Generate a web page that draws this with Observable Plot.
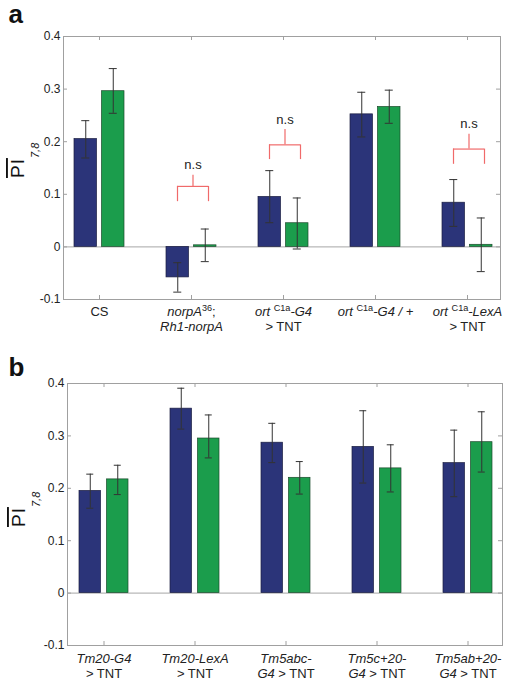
<!DOCTYPE html>
<html><head><meta charset="utf-8">
<script src="https://cdn.jsdelivr.net/npm/d3@7"></script>
<script src="https://cdn.jsdelivr.net/npm/@observablehq/plot@0.6"></script>
<style>
body{margin:0;background:#fff;}
#fig{width:511px;}
#fig svg{display:block;}
</style></head><body><div id="fig"></div>
<script>
// ---------- data ----------
// labels use a tiny markup: _italic_  ^superscript^  \n new line
const groupsA = ["CS", "_norpA_^36^;\n_Rh1-norpA_", "_ort_ ^C1a^_-G4_\n> TNT", "_ort_ ^C1a^_-G4 / +_", "_ort_ ^C1a^_-LexA_\n> TNT"];
const blueA    = [0.205, -0.058, 0.095, 0.252, 0.084];
const blueLoA  = [0.169, -0.086, 0.046, 0.209, 0.039];
const blueHiA  = [0.240, -0.030, 0.145, 0.294, 0.128];
const greenA   = [0.296, 0.003, 0.045, 0.266, 0.004];
const greenLoA = [0.254, -0.028, -0.004, 0.235, -0.047];
const greenHiA = [0.339, 0.034, 0.093, 0.298, 0.055];
// "n.s" brackets (group index, bar level, leg bottom, stem top)
const nsGroupsA = [1, 2, 4];
const nsBarA  = [0.115, 0.194, 0.186];
const nsLegA  = [0.086, 0.166, 0.157];
const nsStemA = [0.136, 0.223, 0.214];

const groupsB = ["_Tm20-G4_\n> TNT", "_Tm20-LexA_\n> TNT", "_Tm5abc-_\n_G4_ > TNT", "_Tm5c+20-_\n_G4_ > TNT", "_Tm5ab+20-_\n_G4_ > TNT"];
const blueB    = [0.195, 0.352, 0.287, 0.279, 0.248];
const blueLoB  = [0.162, 0.313, 0.249, 0.210, 0.184];
const blueHiB  = [0.227, 0.391, 0.324, 0.348, 0.311];
const greenB   = [0.217, 0.295, 0.220, 0.238, 0.288];
const greenLoB = [0.188, 0.258, 0.189, 0.193, 0.231];
const greenHiB = [0.244, 0.340, 0.251, 0.283, 0.346];

const yTicks = [-0.1, 0, 0.1, 0.2, 0.3, 0.4];
const BLUE = "#2b3479", GREEN = "#1b9d4c", RED = "#f06a6a";
const FONT = "'Liberation Sans', Arial, Helvetica, sans-serif";

function stripMarkup(s) { return s.replace(/[_^]/g, ""); }

function richLabel(textEl, label) {
  const t = d3.select(textEl);
  t.attr("y", null);
  t.selectAll("*").remove();
  t.text(null);
  label.split("\n").forEach((line, k) => {
    const lt = t.append("tspan").attr("x", 0).attr("y", (0.71 + k * 1.15) + "em");
    let shift = 0;
    for (const m of line.matchAll(/_([^_]*)_|\^([^^]*)\^|([^_^]+)/g)) {
      let s;
      if (m[2] != null) {
        s = lt.append("tspan").attr("font-size", "70%").attr("dy", "-0.55em").text(m[2]);
        shift = 0.385;
        continue;
      }
      s = lt.append("tspan").text(m[1] != null ? m[1] : m[3]);
      if (m[1] != null) s.attr("font-style", "italic");
      if (shift) { s.attr("dy", shift + "em"); shift = 0; }
    }
  });
}

function panel(cfg) {
  const {groups, blue, blueLo, blueHi, green, greenLo, greenHi, ns, letter,
         height, mt, mb, ml, mr, xRange, tickPad, labelPos, letterPos} = cfg;
  const rows = groups.map((g, i) => ({g, b: blue[i], bl: blueLo[i], bh: blueHi[i],
                                      gr: green[i], gl: greenLo[i], gh: greenHi[i]}));
  const nsRows = ns ? ns.groups.map((gi, j) => ({g: groups[gi], bar: ns.bar[j], leg: ns.leg[j], stem: ns.stem[j]})) : [];
  const ph = height - mt - mb, pw = 511 - ml - mr;
  const marks = [
    Plot.ruleY([0], {stroke: "#a6a6a6", strokeWidth: 1}),
    Plot.barY(rows, {x: "g", y: "b", fill: BLUE, stroke: "#1a1d40", strokeWidth: 0.7, insetLeft: 0, insetRight: 27.5}),
    Plot.barY(rows, {x: "g", y: "gr", fill: GREEN, stroke: "#1c4a2c", strokeWidth: 0.7, insetLeft: 27.5, insetRight: 0}),
    Plot.ruleX(rows, {x: "g", y1: "bl", y2: "bh", dx: -13.75, stroke: "#333", strokeWidth: 1}),
    Plot.ruleX(rows, {x: "g", y1: "gl", y2: "gh", dx: 13.75, stroke: "#333", strokeWidth: 1}),
    Plot.tickY(rows, {x: "g", y: "bl", insetLeft: 7.25, insetRight: 34.75, stroke: "#333"}),
    Plot.tickY(rows, {x: "g", y: "bh", insetLeft: 7.25, insetRight: 34.75, stroke: "#333"}),
    Plot.tickY(rows, {x: "g", y: "gl", insetLeft: 34.75, insetRight: 7.25, stroke: "#333"}),
    Plot.tickY(rows, {x: "g", y: "gh", insetLeft: 34.75, insetRight: 7.25, stroke: "#333"}),
    // n.s brackets
    Plot.tickY(nsRows, {x: "g", y: "bar", insetLeft: 11, insetRight: 8, stroke: RED, strokeWidth: 1.2}),
    Plot.ruleX(nsRows, {x: "g", y1: "bar", y2: "leg", dx: -14, stroke: RED, strokeWidth: 1.2}),
    Plot.ruleX(nsRows, {x: "g", y1: "bar", y2: "leg", dx: 17, stroke: RED, strokeWidth: 1.2}),
    Plot.ruleX(nsRows, {x: "g", y1: "bar", y2: "stem", dx: 1.5, stroke: RED, strokeWidth: 1.2}),
    Plot.text(nsRows, {x: "g", y: "stem", text: () => "n.s", dx: 1.5, dy: -6, lineAnchor: "bottom", fontSize: 13, fill: "#222"}),
    // box
    Plot.frame({stroke: "#a0a0a0", strokeWidth: 1}),
    // inward ticks (MATLAB style)
    Plot.tickX(groups, {x: d => d, insetTop: ph - 4, stroke: "#a0a0a0"}),
    Plot.tickX(groups, {x: d => d, insetBottom: ph - 4, stroke: "#a0a0a0"}),
    Plot.tickY(yTicks, {y: d => d, insetRight: pw - 4, stroke: "#a0a0a0"}),
    Plot.tickY(yTicks, {y: d => d, insetLeft: pw - 4, stroke: "#a0a0a0"}),
    Plot.axisY({ticks: yTicks, tickSize: 0, tickPadding: 3, fontSize: 12, label: null,
                tickFormat: d => d === 0 ? "0" : d.toFixed(1)}),
    Plot.axisX({tickSize: 0, tickPadding: tickPad, fontSize: 13, label: null, tickFormat: stripMarkup}),
    Plot.text([letter], {frameAnchor: "top-left", dx: letterPos[0] - ml, dy: letterPos[1] - mt,
                         lineAnchor: "bottom", textAnchor: "start", fontSize: 26, fontWeight: "bold", fill: "#111"})
  ];
  const svg = Plot.plot({
    width: 511, height, marginTop: mt, marginBottom: mb, marginLeft: ml, marginRight: mr,
    style: {fontFamily: FONT, fontSize: "12px", color: "#222", background: "white", overflow: "visible"},
    x: {type: "band", domain: groups, range: xRange, paddingInner: 0.4565, paddingOuter: 0, axis: null, label: null},
    y: {domain: [-0.1, 0.4], axis: null, label: null},
    marks
  });
  // rich x tick labels
  const labels = d3.select(svg).selectAll('g[aria-label="x-axis tick label"] text').nodes();
  labels.forEach((el, i) => richLabel(el, groups[i]));
  // y label: PI (overlined) with subscript 7,8
  const yl = d3.select(svg).append("text")
    .attr("transform", `translate(${labelPos[0]},${labelPos[1]}) rotate(-90)`)
    .attr("text-anchor", "start").attr("font-family", FONT).attr("fill", "#111");
  yl.append("tspan").attr("font-size", 19).attr("letter-spacing", 1)
    .style("text-decoration", "overline").text("PI");
  yl.append("tspan").attr("font-size", 11).attr("font-style", "italic")
    .attr("dx", 0).attr("dy", 15).text("7,8");
  return svg;
}

const fig = document.getElementById("fig");
fig.appendChild(panel({
  groups: groupsA, blue: blueA, blueLo: blueLoA, blueHi: blueHiA, green: greenA, greenLo: greenLoA, greenHi: greenHiA,
  ns: {groups: nsGroupsA, bar: nsBarA, leg: nsLegA, stem: nsStemA}, letter: "a",
  height: 340, mt: 36, mb: 41, ml: 63, mr: 11, xRange: [73.5, 492], tickPad: 7,
  labelPos: [24, 178], letterPos: [8, 22]
}));
fig.appendChild(panel({
  groups: groupsB, blue: blueB, blueLo: blueLoB, blueHi: blueHiB, green: greenB, greenLo: greenLoB, greenHi: greenHiB,
  ns: null, letter: "b",
  height: 344, mt: 43, mb: 39, ml: 67, mr: 9, xRange: [77, 495], tickPad: 8,
  labelPos: [25, 187], letterPos: [8, 35]
}));
</script></body></html>
